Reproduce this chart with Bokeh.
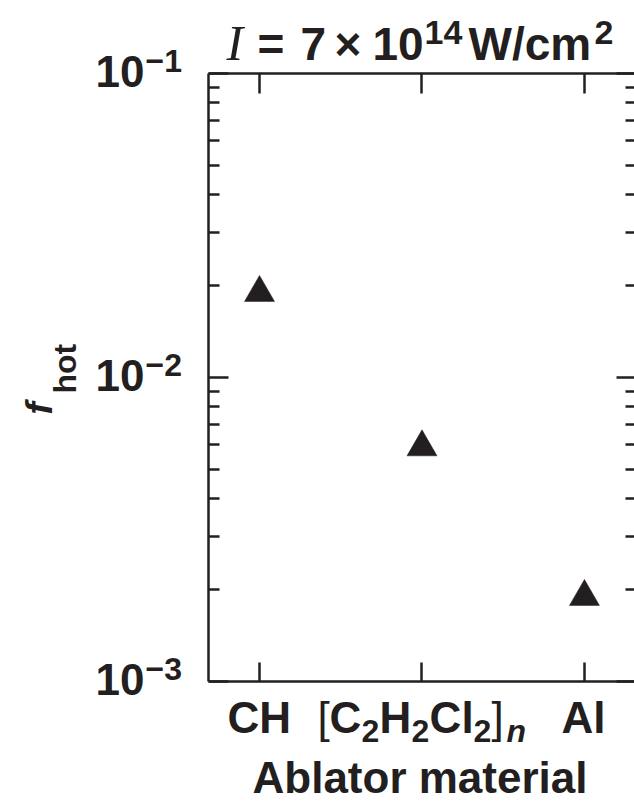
from math import pi, log10
from bokeh.plotting import figure
from bokeh.models import (Range1d, FixedTicker, LinearAxis, LogAxis, Label,
                          CustomJSTickFormatter)
from bokeh.embed import file_html
from bokeh.resources import INLINE

# ---- data ----
materials = ["CH", "[C2H2Cl2]n", "Al"]
f_hot = [0.019, 0.0059, 0.0019]
y_major_ticks = [1e-3, 1e-2, 1e-1]
y_tick_exponents = ["\u22123", "\u22122", "\u22121"]
y_minor_mantissas = [2, 3, 4, 5, 6, 7, 8, 9]

x_pos = list(range(len(materials)))
y_minor_ticks = [m * d for d in y_major_ticks[:-1] for m in y_minor_mantissas]

INK = "#231f20"
SANS = "Liberation Sans"
SERIF = "Liberation Serif"

# layout geometry (pixels): the axes box inside the canvas
W, H = 634, 803
FL, FT, FB = 208, 73, 681
X0, X1 = -0.314, 2.308            # x data at box left and canvas right
px_per_x = (W - FL) / (X1 - X0)
ylo, yhi = log10(y_major_ticks[0]), log10(y_major_ticks[-1])
px_per_dec = (FB - FT) / (yhi - ylo)

# the frame fills the whole canvas so that texts outside the box show
xr = Range1d(X0 - FL / px_per_x, X1)
yr = Range1d(10 ** (ylo - (H - FB) / px_per_dec), 10 ** (yhi + FT / px_per_dec))

p = figure(width=W, height=H, output_backend="svg", toolbar_location=None,
           x_range=xr, y_range=yr, y_axis_type="log",
           x_axis_location=None, y_axis_location=None)
p.min_border = 0
p.min_border_left = p.min_border_right = 0
p.min_border_top = p.min_border_bottom = 0
p.outline_line_color = None
p.background_fill_color = "white"
p.border_fill_color = "white"
p.grid.visible = False

blank = CustomJSTickFormatter(code="return ''")


def make_axis(cls, ticker, loc, bounds, major_in, minor_in, line=True):
    ax = cls(ticker=ticker, fixed_location=loc, bounds=bounds, formatter=blank)
    ax.major_tick_in = major_in
    ax.major_tick_out = 0
    ax.minor_tick_in = minor_in
    ax.minor_tick_out = 0
    ax.major_label_text_font_size = "1px"
    ax.major_label_standoff = 0
    ax.axis_line_width = 2.5
    ax.axis_line_color = INK if line else None
    ax.major_tick_line_width = 2.5
    ax.minor_tick_line_width = 2.5
    ax.major_tick_line_color = INK
    ax.minor_tick_line_color = INK
    return ax


xt = FixedTicker(ticks=x_pos)
yt = FixedTicker(ticks=y_major_ticks, minor_ticks=y_minor_ticks)
ybounds = (y_major_ticks[0], y_major_ticks[-1])
xbounds = (X0, X1)

p.add_layout(make_axis(LinearAxis, xt, y_major_ticks[0], xbounds, 19, 0), "below")
p.add_layout(make_axis(LinearAxis, xt, y_major_ticks[-1], xbounds, 20, 0), "above")
p.add_layout(make_axis(LogAxis, yt, X0, ybounds, 20, 11), "left")
p.add_layout(make_axis(LogAxis, yt, X1, ybounds, 18, 9, line=False), "right")

p.scatter(x=x_pos, y=f_hot, marker="triangle", size=30,
          fill_color=INK, line_color=INK, line_width=0.5)

K = 0.37  # measured baseline correction of the text layout, in em


def run(text, sx, anchor_y, dy, size, font=SANS, style="bold",
        align="left", rotated=False):
    """Place text; sx is the pixel column, dy the baseline in pixels above anchor."""
    if rotated:
        xo, yo, ang = sx - FL - K * size, dy, pi / 2
    else:
        xo, yo, ang = sx - FL, dy + K * size, 0.0
    p.add_layout(Label(x=X0, y=anchor_y, x_units="data", y_units="data",
                       x_offset=xo, y_offset=yo, text=text,
                       text_font=font, text_font_style=style,
                       text_font_size=f"{size}px",
                       text_color=INK, text_align=align,
                       text_baseline="alphabetic", angle=ang))


# y tick labels
for v, e in zip(y_major_ticks, y_tick_exponents):
    run("10", 144, v, -14, 44, align="right")
    run(e, 145, v, 1, 32)

# title  I = 7 x 10^14 W/cm^2
top = y_major_ticks[-1]
run("I", 226, top, 12, 50, font=SERIF, style="italic")
run("=", 257, top, 12, 46)
run("7", 300, top, 12, 46)
run("\u00d7", 334, top, 12, 46)
run("10", 372, top, 12, 46)
run("14", 424, top, 28, 34)
run("W/cm", 468, top, 12, 46)
run("2", 594, top, 28, 34)

# x tick labels
bot = y_major_ticks[0]
base = -52
sub = -61
run("CH", 227, bot, base, 44)
run("[", 317, bot, base, 44, style="normal")
run("C", 329, bot, base, 44)
run("2", 361, bot, sub, 32)
run("H", 379, bot, base, 44)
run("2", 411, bot, sub, 32)
run("C", 429, bot, base, 44)
run("l", 461, bot, base, 44)
run("2", 473, bot, sub, 32)
run("]", 491, bot, base, 44, style="normal")
run("n", 506, bot, sub, 32, style="bold italic")
run("Al", 561, bot, base, 44)

# x axis title
run("Ablator material", 252, bot, -112, 44)

# y axis title  f_hot (rotated)
mid = y_major_ticks[1]
run("f", 53, mid, 377 - 414, 37, style="bold italic", rotated=True)
run("hot", 76, mid, 377 - 393, 32, rotated=True)

open("out.html", "w").write(file_html(p, INLINE))
